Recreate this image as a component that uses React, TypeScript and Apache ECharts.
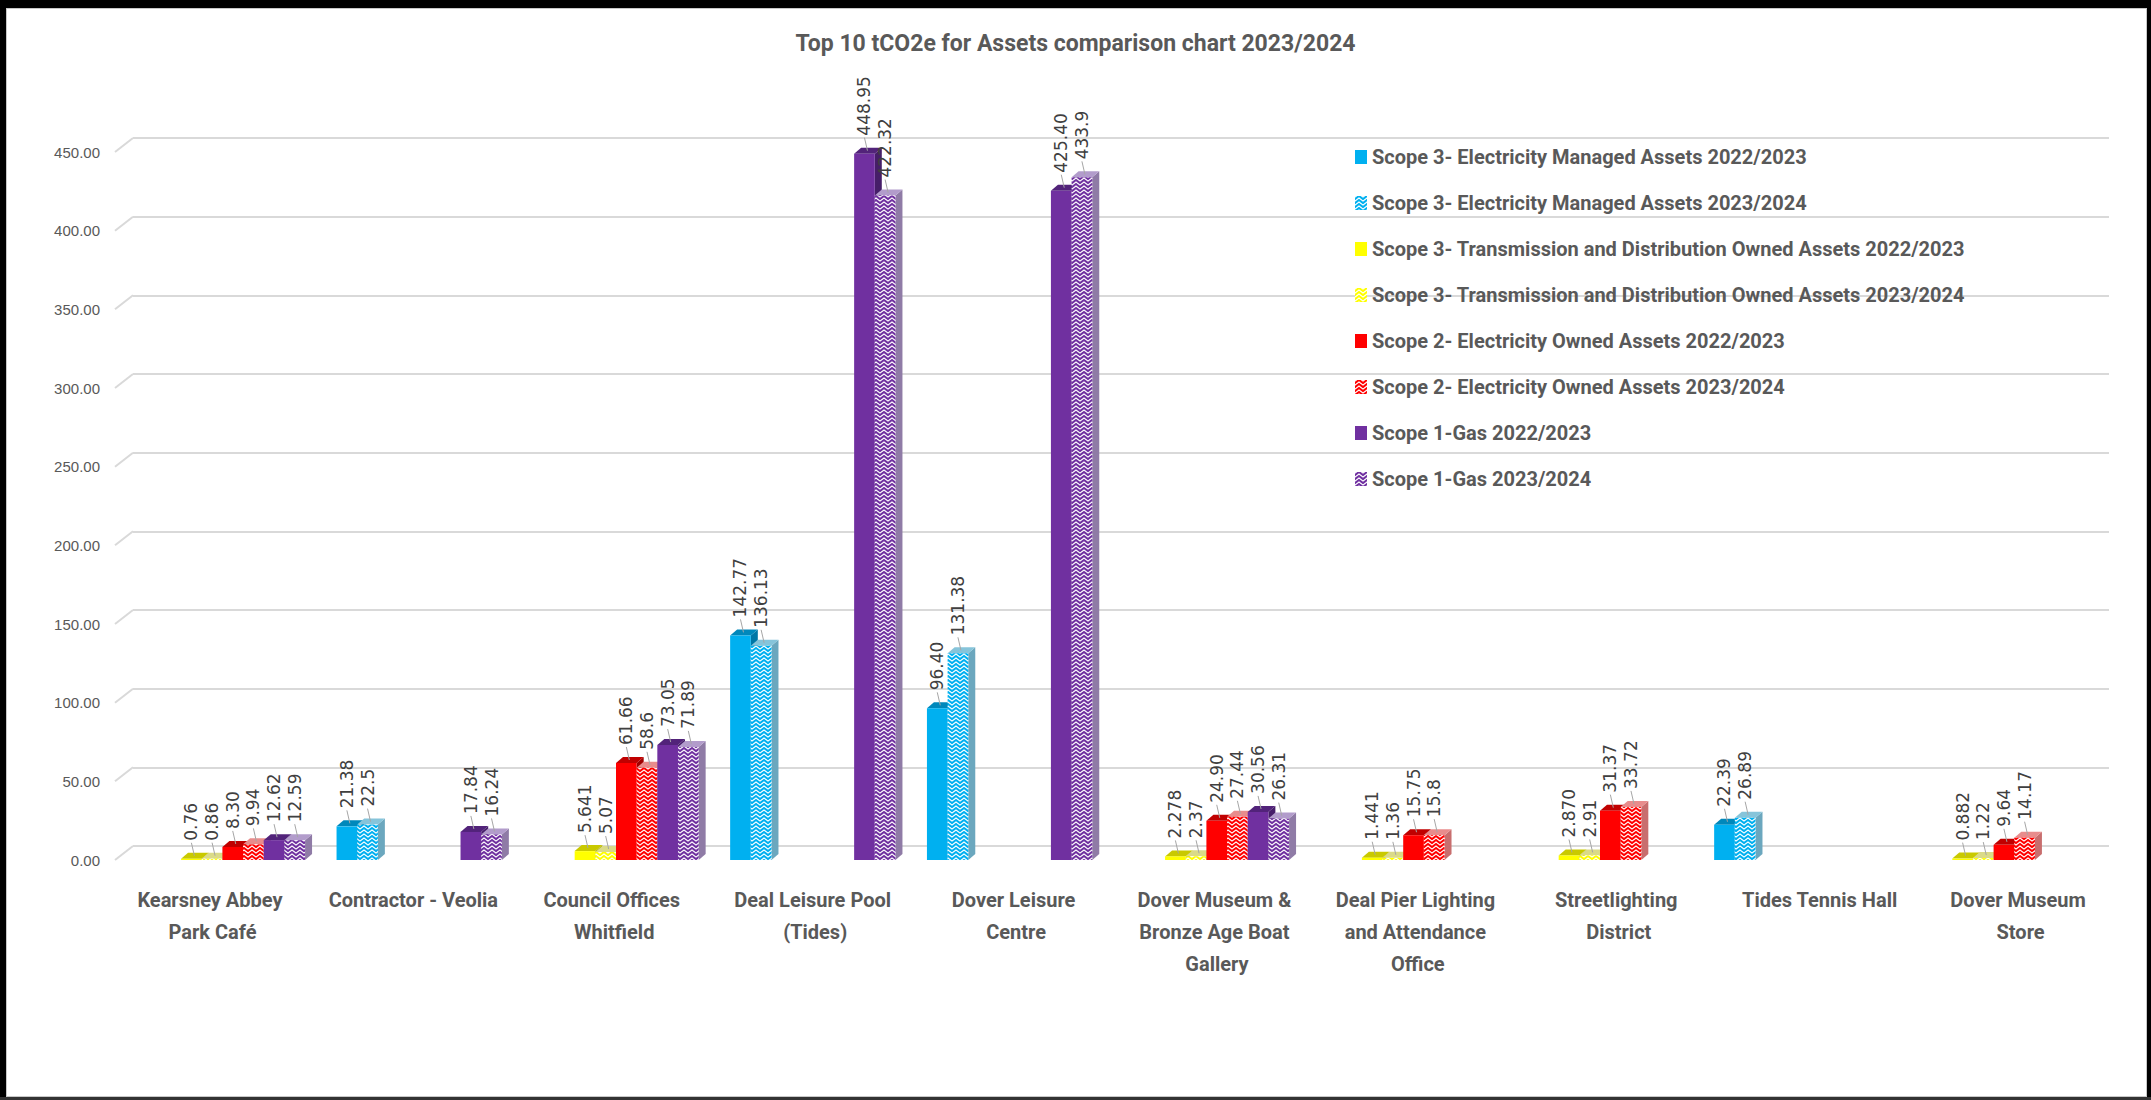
import React, { useEffect, useRef } from "react";
import * as echarts from "echarts";

const categories = [
  "Kearsney Abbey Park Café",
  "Contractor - Veolia",
  "Council Offices Whitfield",
  "Deal Leisure Pool (Tides)",
  "Dover Leisure Centre",
  "Dover Museum & Bronze Age Boat Gallery",
  "Deal Pier Lighting and Attendance Office",
  "Streetlighting District",
  "Tides Tennis Hall",
  "Dover Museum Store",
];

const seriesNames = [
  "Scope 3- Electricity Managed Assets 2022/2023",
  "Scope 3- Electricity Managed Assets 2023/2024",
  "Scope 3- Transmission and Distribution Owned Assets 2022/2023",
  "Scope 3- Transmission and Distribution Owned Assets 2023/2024",
  "Scope 2- Electricity Owned Assets 2022/2023",
  "Scope 2- Electricity Owned Assets 2023/2024",
  "Scope 1-Gas 2022/2023",
  "Scope 1-Gas 2023/2024",
];

// values kept as written on the chart's labels
const elecManaged2223 = [null, "21.38", null, "142.77", "96.40", null, null, null, "22.39", null];
const elecManaged2324 = [null, "22.5", null, "136.13", "131.38", null, null, null, "26.89", null];
const transDist2223 = ["0.76", null, "5.641", null, null, "2.278", "1.441", "2.870", null, "0.882"];
const transDist2324 = ["0.86", null, "5.07", null, null, "2.37", "1.36", "2.91", null, "1.22"];
const elecOwned2223 = ["8.30", null, "61.66", null, null, "24.90", "15.75", "31.37", null, "9.64"];
const elecOwned2324 = ["9.94", null, "58.6", null, null, "27.44", "15.8", "33.72", null, "14.17"];
const gas2223 = ["12.62", "17.84", "73.05", "448.95", "425.40", "30.56", null, null, null, null];
const gas2324 = ["12.59", "16.24", "71.89", "422.32", "433.9", "26.31", null, null, null, null];

const Y_MIN = 0;
const Y_MAX = 450;
const Y_INTERVAL = 50;
const yTickValues = [0, 50, 100, 150, 200, 250, 300, 350, 400, 450];

const allValues: (string | null)[][] = [
  elecManaged2223,
  elecManaged2324,
  transDist2223,
  transDist2324,
  elecOwned2223,
  elecOwned2324,
  gas2223,
  gas2324,
];

const baseColors = ["#00B0F0", "#00B0F0", "#FFFF00", "#FFFF00", "#FF0000", "#FF0000", "#7030A0", "#7030A0"];
const hatched = [false, true, false, true, false, true, false, true];
const topColors = ["#0088BB", "#86C4DA", "#C9C900", "#DADA88", "#C00000", "#E88C8C", "#52237A", "#B29CCB"];
const sideColors = ["#0077A6", "#6BA7BE", "#B0B000", "#C2C270", "#A00000", "#C86E6E", "#461E69", "#8F7BA6"];

const GAP = 0.16;
const DX = 7;
const DY = 6;
const WALL_DX = 9;
const WALL_DY = 14;
const LABEL_DIST = 18;
const FONT = "Roboto, 'Liberation Sans', sans-serif";

function makePattern(color: string) {
  const size = 8;
  const c = document.createElement("canvas");
  c.width = size;
  c.height = size;
  const ctx = c.getContext("2d")!;
  ctx.fillStyle = "#ffffff";
  ctx.fillRect(0, 0, size, size);
  ctx.strokeStyle = color;
  ctx.lineWidth = 2;
  for (const r of [-4, 0, 4, 8]) {
    ctx.beginPath();
    ctx.moveTo(-0.5, r + 3.5);
    ctx.lineTo(4, r);
    ctx.lineTo(8.5, r + 3.5);
    ctx.stroke();
  }
  return { image: c, repeat: "repeat", imageWidth: size, imageHeight: size } as any;
}

export default function App() {
  const ref = useRef<HTMLDivElement>(null);

  useEffect(() => {
    if (!ref.current) return;
    const chart = echarts.init(ref.current, undefined, { renderer: "svg" });

    const faceData: number[][] = [];
    allValues.forEach((arr, s) => {
      arr.forEach((v, c) => {
        if (v != null) faceData.push([c, Number(v), s]);
      });
    });

    const barGeom = (api: any) => {
      const c = api.value(0);
      const v = api.value(1);
      const s = api.value(2);
      const base = api.coord([c, 0]);
      const top = api.coord([c, v]);
      const band = api.size([1, 0], [c, v])[0];
      const total = band * (1 - GAP);
      const bw = total / 8;
      const x0 = base[0] - total / 2 + s * bw;
      return { s, x0, x1: x0 + bw, yT: top[1], yB: base[1] };
    };

    const faceRenderer = (kind: "side" | "top" | "leader") => (params: any, api: any) => {
      const { s, x0, x1, yT, yB } = barGeom(api);
      if (kind === "side") {
        return {
          type: "polygon",
          shape: { points: [[x1, yT], [x1 + DX, yT - DY], [x1 + DX, yB - DY], [x1, yB]] },
          style: { fill: sideColors[s] },
        };
      }
      if (kind === "leader") {
        const xc = (x0 + x1) / 2;
        return {
          type: "line",
          shape: { x1: xc + 3, y1: yT - 3, x2: xc, y2: yT - LABEL_DIST + 2 },
          style: { stroke: "#a6a6a6", lineWidth: 1 },
        };
      }
      return {
        type: "polygon",
        shape: { points: [[x0, yT], [x0 + DX, yT - DY], [x1 + DX, yT - DY], [x1, yT]] },
        style: { fill: topColors[s] },
      };
    };

    const wallRenderer = (params: any, api: any) => {
      const v = api.value(1);
      const p = api.coord([0, v]);
      const band = api.size([1, 0], [0, v])[0];
      const xl = p[0] - band / 2;
      return {
        type: "line",
        shape: { x1: xl - WALL_DX, y1: p[1], x2: xl + WALL_DX, y2: p[1] - WALL_DY },
        style: { stroke: "#d9d9d9", lineWidth: 2 },
      };
    };

    const barSeries = allValues.map((arr, s) => ({
      name: seriesNames[s],
      type: "bar",
      xAxisIndex: 0,
      yAxisIndex: 0,
      barGap: "0%",
      barCategoryGap: `${GAP * 100}%`,
      z: 3,
      data: arr.map((v) => (v == null ? null : Number(v))),
      itemStyle: { color: hatched[s] ? makePattern(baseColors[s]) : baseColors[s] },
      label: {
        show: true,
        position: "top",
        distance: LABEL_DIST,
        rotate: 90,
        align: "left",
        verticalAlign: "middle",
        fontFamily: "'DejaVu Sans', Verdana, sans-serif",
        fontSize: 17,
        color: "#404040",
        formatter: (p: any) => String(arr[p.dataIndex] ?? ""),
      },
    }));

    const customBase = {
      type: "custom",
      xAxisIndex: 0,
      yAxisIndex: 0,
      clip: false,
      silent: true,
      encode: { x: 0, y: 1 },
    };

    const border = "#000000";
    const option: any = {
      animation: false,
      backgroundColor: "#ffffff",
      title: {
        text: "Top 10 tCO2e for Assets comparison chart 2023/2024",
        left: "center",
        top: 32,
        padding: 0,
        textStyle: { fontFamily: FONT, fontWeight: "bold", fontSize: 23, color: "#595959" },
      },
      legend: {
        data: seriesNames,
        orient: "vertical",
        left: 1350,
        top: 142,
        itemGap: 26,
        itemWidth: 12,
        itemHeight: 14,
        icon: "rect",
        textStyle: { fontFamily: FONT, fontWeight: "bold", fontSize: 20, color: "#595959" },
      },
      grid: [
        { left: 124, right: 59, top: 152, bottom: 240 },
        { left: 133, right: 42, top: 138, bottom: 254 },
        { left: 112, right: 30, top: 152, bottom: 240 },
      ],
      xAxis: [
        {
          gridIndex: 0,
          type: "category",
          data: categories,
          axisLine: { show: false },
          axisTick: { show: false },
          splitLine: { show: false },
          axisLabel: { show: false },
        },
        { gridIndex: 1, type: "category", data: categories, show: false },
        {
          gridIndex: 2,
          type: "category",
          data: categories,
          axisLine: { show: false },
          axisTick: { show: false },
          splitLine: { show: false },
          axisLabel: {
            interval: 0,
            width: 178,
            overflow: "break",
            fontFamily: FONT,
            fontWeight: "bold",
            fontSize: 20,
            lineHeight: 32,
            color: "#595959",
            margin: 24,
          },
        },
      ],
      yAxis: [
        {
          gridIndex: 0,
          type: "value",
          min: Y_MIN,
          max: Y_MAX,
          interval: Y_INTERVAL,
          axisLine: { show: false },
          axisTick: { show: false },
          splitLine: { show: false },
          axisLabel: {
            formatter: (v: number) => v.toFixed(2),
            fontFamily: "'Liberation Sans', Arial, sans-serif",
            fontSize: 15,
            color: "#595959",
            margin: 24,
          },
        },
        {
          gridIndex: 1,
          type: "value",
          min: Y_MIN,
          max: Y_MAX,
          interval: Y_INTERVAL,
          axisLine: { show: false },
          axisTick: { show: false },
          axisLabel: { show: false },
          splitLine: { show: true, lineStyle: { color: "#d9d9d9", width: 2 } },
        },
        {
          gridIndex: 2,
          type: "value",
          min: Y_MIN,
          max: Y_MAX,
          interval: Y_INTERVAL,
          show: false,
        },
      ],
      series: [
        { ...customBase, name: "wall", z: 0, data: yTickValues.map((v) => [0, v]), renderItem: wallRenderer },
        { ...customBase, name: "sides", z: 1, data: faceData, renderItem: faceRenderer("side") },
        { ...customBase, name: "tops", z: 2, data: faceData, renderItem: faceRenderer("top") },
        ...barSeries,
        { ...customBase, name: "leaders", z: 4, data: faceData, renderItem: faceRenderer("leader") },
      ],
      graphic: [
        { type: "rect", silent: true, z: 100, shape: { x: 0, y: 8, width: 2151, height: 1 }, style: { fill: "#c8c8c8" } },
        { type: "rect", silent: true, z: 100, shape: { x: 6, y: 0, width: 1, height: 1100 }, style: { fill: "#c8c8c8" } },
        { type: "rect", silent: true, z: 100, shape: { x: 2146, y: 0, width: 1, height: 1100 }, style: { fill: "#c8c8c8" } },
        { type: "rect", silent: true, z: 100, shape: { x: 0, y: 1096, width: 2151, height: 1 }, style: { fill: "#c8c8c8" } },
        { type: "rect", silent: true, z: 101, shape: { x: 0, y: 0, width: 2151, height: 8 }, style: { fill: border } },
        { type: "rect", silent: true, z: 101, shape: { x: 0, y: 0, width: 6, height: 1100 }, style: { fill: border } },
        { type: "rect", silent: true, z: 101, shape: { x: 2147, y: 0, width: 4, height: 1100 }, style: { fill: border } },
        { type: "rect", silent: true, z: 101, shape: { x: 0, y: 1097, width: 2151, height: 3 }, style: { fill: "#333333" } },
      ],
    };

    chart.setOption(option);
    return () => chart.dispose();
  }, []);

  return (
    <div
      ref={ref}
      style={{ position: "fixed", left: 0, top: 0, width: 2151, height: 1100, background: "#ffffff" }}
    />
  );
}
